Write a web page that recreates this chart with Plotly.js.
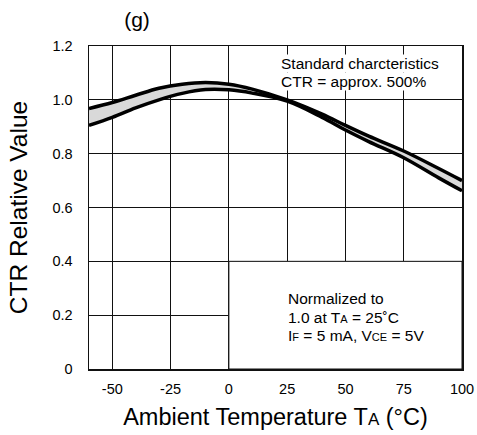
<!DOCTYPE html>
<html>
<head>
<meta charset="utf-8">
<script src="https://cdn.plot.ly/plotly-3.0.1.min.js"></script>
<style>html,body{margin:0;padding:0;background:#fff;}#chart{width:477px;height:435px;}</style>
</head>
<body>
<div id="chart"></div>
<script>
// Data
const temperature = [-60, -50, -40, -30, -20, -10, 0, 10, 25, 40, 50, 60, 75, 90, 100];
const ctrUpper    = [0.968, 0.99, 1.017, 1.043, 1.058, 1.064, 1.058, 1.04, 1.0, 0.947, 0.905, 0.865, 0.81, 0.745, 0.70];
const ctrLower    = [0.905, 0.935, 0.97, 1.0, 1.024, 1.038, 1.037, 1.025, 0.995, 0.935, 0.888, 0.845, 0.785, 0.71, 0.662];
const xTickVals = [-50, -25, 0, 25, 50, 75, 100];
const xTickText = ['-50', '-25', '0', '25', '50', '75', '100'];
const yTickVals = [0, 0.2, 0.4, 0.6, 0.8, 1.0, 1.2];
const yTickText = ['0', '0.2', '0.4', '0.6', '0.8', '1.0', '1.2'];

const FONT = 'Liberation Sans, Arial, sans-serif';
const small = s => '<span style="font-size:11px">' + s + '</span>';

const traces = [
  {x: temperature, y: ctrLower, mode: 'lines', line: {color: '#000', width: 3.5, shape: 'spline'}, hoverinfo: 'skip'},
  {x: temperature, y: ctrUpper, mode: 'lines', line: {color: '#000', width: 3.5, shape: 'spline'},
   fill: 'tonexty', fillcolor: '#d9d9d9', hoverinfo: 'skip'}
];

function note(text, ypx, xpx) {
  return {xref: 'paper', yref: 'paper', x: (xpx - 89) / 373, y: 1 - (ypx - 46) / 323,
          xanchor: 'left', yanchor: 'middle', align: 'left', text: text, showarrow: false,
          bgcolor: '#fff', borderpad: 0, font: {size: 15.5, family: FONT}};
}

const layout = {
  width: 477, height: 435,
  margin: {l: 89, r: 15, t: 46, b: 66},
  paper_bgcolor: '#fff', plot_bgcolor: '#fff',
  showlegend: false,
  font: {family: FONT, color: '#000', size: 14},
  title: {text: '(g)', xref: 'container', yref: 'container', x: 137 / 477, xanchor: 'center',
          y: 1 - 20 / 435, yanchor: 'middle', font: {size: 21, family: FONT}},
  xaxis: {
    range: [-60, 100], tickvals: xTickVals, ticktext: xTickText,
    showgrid: true, gridcolor: '#111', gridwidth: 1,
    showline: true, mirror: true, linecolor: '#111', linewidth: 1.5,
    ticks: '', zeroline: false, tickfont: {size: 14.5, family: FONT},
    ticklabelstandoff: 6,
    title: {text: 'Ambient Temperature T' + '<span style="font-size:17px">A</span>' + ' (°C)', font: {size: 23.5, family: FONT}, standoff: 12}
  },
  yaxis: {
    range: [0, 1.2], tickvals: yTickVals, ticktext: yTickText,
    showgrid: true, gridcolor: '#111', gridwidth: 1,
    showline: true, mirror: true, linecolor: '#111', linewidth: 1.5,
    ticks: '', zeroline: false, tickfont: {size: 14.5, family: FONT},
    ticklabelstandoff: 12,
    title: {text: 'CTR Relative Value', font: {size: 24.5, family: FONT}, standoff: 18}
  },
  shapes: [
    {type: 'rect', xref: 'x', yref: 'y', x0: 0, x1: 100, y0: 0, y1: 0.4,
     fillcolor: '#fff', line: {color: '#111', width: 1}, layer: 'above'}
  ],
  annotations: [
    note('Standard charcteristics', 64, 280),
    note('CTR = approx. 500%', 81, 280),
    note('Normalized to', 298, 287),
    note('1.0 at T' + small('A') + ' = 25˚C', 317, 287),
    note('I' + small('F') + ' = 5 mA, V' + small('CE') + ' = 5V', 335, 287)
  ]
};

Plotly.newPlot('chart', traces, layout, {displayModeBar: false, staticPlot: true});
</script>
</body>
</html>
